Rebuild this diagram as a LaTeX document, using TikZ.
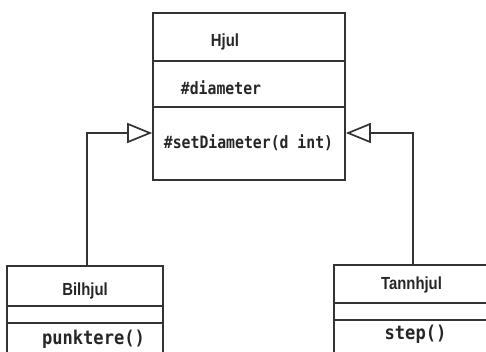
\documentclass[tikz,border=0pt]{standalone}
\usepackage{fontspec}
\usepackage{graphicx}
\setmainfont{Liberation Sans}
\newfontfamily\codefont{DejaVu Sans Mono}
\usetikzlibrary{arrows.meta}
\tikzset{
  umlline/.style={draw=black!80, line width=1.7pt},
  classbox/.style={umlline, rectangle, inner sep=0pt},
  inherit/.style={umlline, -{Triangle[open, length=25pt, width=20pt, line width=1.7pt]}},
  classname/.style={text=black!85, inner sep=0pt, font=\fontsize{17.5}{20}\selectfont\bfseries},
  member/.style={text=black!85, inner sep=0pt, font=\fontsize{17}{19}\selectfont\codefont\bfseries},
  submember/.style={text=black!85, inner sep=0pt, font=\fontsize{19}{21}\selectfont\codefont\bfseries},
}
\newcommand{\narrowname}[1]{\scalebox{0.85}[1]{#1}}
\newcommand{\narrowcode}[1]{\scalebox{0.87}[1]{#1}}
\newcommand{\narrowsub}[1]{\scalebox{0.9}[1]{#1}}
\begin{document}
\begin{tikzpicture}[x=1pt, y=-1pt]
  \useasboundingbox (0,0) rectangle (486,351);
  \clip (0,0) rectangle (486,351);

  % superclass
  \node[classbox, minimum width=192pt, minimum height=167pt] (hjul) at (249,96.5) {};
  \draw[umlline] (hjul.west |- 0,61) -- (hjul.east |- 0,61);
  \draw[umlline] (hjul.west |- 0,107) -- (hjul.east |- 0,107);
  \node[classname] (hjulname) at (225,42) {\narrowname{Hjul}};
  \node[member] (diam) at (221,88) {\narrowcode{\#diameter}};
  \node[member] (setdiam) at (248.5,143) {\narrowcode{\#setDiameter(d int)}};

  % subclass Bilhjul
  \node[classbox, minimum width=156pt, minimum height=100pt] (bil) at (85,316) {};
  \draw[umlline] (bil.west |- 0,306) -- (bil.east |- 0,306);
  \draw[umlline] (bil.west |- 0,323) -- (bil.east |- 0,323);
  \node[classname] (bilname) at (85,291) {\narrowname{Bilhjul}};
  \node[submember] (punk) at (93.5,339) {\narrowsub{punktere()}};

  % subclass Tannhjul
  \node[classbox, minimum width=158pt, minimum height=100pt] (tann) at (413,315) {};
  \draw[umlline] (tann.west |- 0,303) -- (tann.east |- 0,303);
  \draw[umlline] (tann.west |- 0,320) -- (tann.east |- 0,320);
  \node[classname] (tannname) at (411.5,285) {\narrowname{Tannhjul}};
  \node[submember] (step) at (415.5,334) {\narrowsub{step()}};

  % generalisation arrows
  \coordinate (lefthit) at (hjul.west |- 0,133);
  \coordinate (righthit) at (hjul.east |- 0,133);
  \coordinate (bilup) at (87,0);
  \coordinate (tannup) at (413,0);
  \draw[inherit] (bilup |- bil.north) |- (lefthit);
  \draw[inherit] (tannup |- tann.north) |- (righthit);
\end{tikzpicture}
\end{document}
